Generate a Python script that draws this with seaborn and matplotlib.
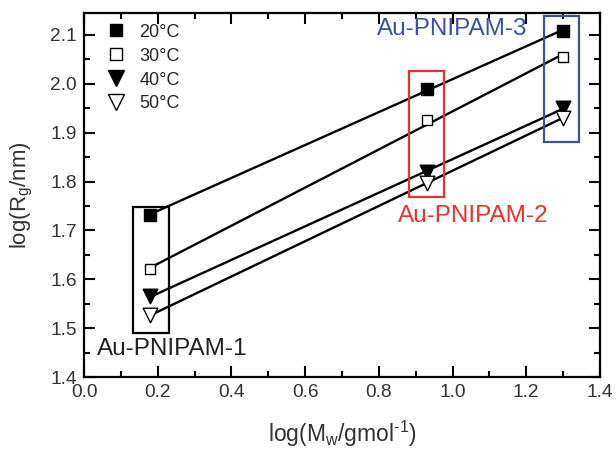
import numpy as np
import pandas as pd
import matplotlib
matplotlib.use("Agg")
import matplotlib.pyplot as plt
import seaborn as sns
from matplotlib.patches import Rectangle
from matplotlib.ticker import MultipleLocator
from matplotlib.lines import Line2D

# ---- data ----
log_mw = [0.18, 0.93, 1.30]
temperatures = ["20°C", "30°C", "40°C", "50°C"]
rg_20 = [1.732, 1.990, 2.108]
rg_30 = [1.621, 1.925, 2.055]
rg_40 = [1.565, 1.819, 1.951]
rg_50 = [1.526, 1.798, 1.930]
sample_labels = ["Au-PNIPAM-1", "Au-PNIPAM-2", "Au-PNIPAM-3"]

series = {"20°C": rg_20, "30°C": rg_30, "40°C": rg_40, "50°C": rg_50}
df = pd.DataFrame([
    {"x": x, "y": y, "T": t}
    for t, vals in series.items() for x, y in zip(log_mw, vals)
])

sns.set_style("ticks")
plt.rcParams["font.family"] = ["Liberation Sans", "DejaVu Sans"]
plt.rcParams["mathtext.fontset"] = "custom"
plt.rcParams["mathtext.rm"] = "Liberation Sans"
plt.rcParams["mathtext.it"] = "Liberation Sans"

fig = plt.figure(figsize=(6.16, 4.53), dpi=100)
ax = fig.add_axes([84/616, 1-377/453, (600-84)/616, (377-13)/453])

styles = {
    "20°C": dict(marker="s", fc="black", s=70),
    "30°C": dict(marker="s", fc="white", s=60),
    "40°C": dict(marker="v", fc="black", s=110),
    "50°C": dict(marker="v", fc="white", s=110),
}

handles = []
for t in temperatures:
    sub = df[df["T"] == t]
    sns.regplot(data=sub, x="x", y="y", ax=ax, scatter=False, ci=None,
                truncate=True, color="black", line_kws=dict(lw=1.7, zorder=2))
    st = styles[t]
    sns.scatterplot(data=sub, x="x", y="y", ax=ax, marker=st["marker"],
                    s=st["s"], facecolor=st["fc"], edgecolor="black",
                    linewidth=1.0, zorder=3, legend=False)
    handles.append(Line2D([], [], ls="none", marker=st["marker"],
                          markersize=np.sqrt(st["s"]) * 1.05, markerfacecolor=st["fc"],
                          markeredgecolor="black", markeredgewidth=1.0, label=t))

# boxes around samples
boxes = [
    ((0.134, 1.490), 0.097, 0.258, "black"),
    ((0.883, 1.769), 0.094, 0.257, "#e8302c"),
    ((1.249, 1.880), 0.094, 0.259, "#3a50a4"),
]
for (xy, w, h, c) in boxes:
    ax.add_patch(Rectangle(xy, w, h, fill=False, edgecolor=c, lw=1.6, zorder=4))

ax.text(0.035, 1.458, sample_labels[0], color="#222222", fontsize=17.5,
        ha="left", va="center")
ax.text(1.056, 1.729, sample_labels[1], color="#e8302c", fontsize=17.5,
        ha="center", va="center")
ax.text(0.998, 2.112, sample_labels[2], color="#3a50a4", fontsize=17.5,
        ha="center", va="center")

ax.set_xlim(0.0, 1.4)
ax.set_ylim(1.4, 2.145)
ax.xaxis.set_major_locator(MultipleLocator(0.2))
ax.xaxis.set_minor_locator(MultipleLocator(0.1))
ax.yaxis.set_major_locator(MultipleLocator(0.1))
ax.yaxis.set_minor_locator(MultipleLocator(0.05))
ax.xaxis.set_major_formatter(matplotlib.ticker.FormatStrFormatter("%.1f"))
ax.yaxis.set_major_formatter(matplotlib.ticker.FormatStrFormatter("%.1f"))
ax.tick_params(which="both", direction="in", top=True, right=True,
               width=1.5, colors="black", labelcolor="#333333", labelsize=13.8)
ax.tick_params(which="major", length=8, pad=5)
ax.tick_params(which="minor", length=4)
ax.tick_params(axis="x", labeltop=False)
ax.tick_params(axis="y", labelright=False)
for sp in ax.spines.values():
    sp.set_linewidth(1.6)
    sp.set_visible(True)
    sp.set_color("black")

ax.set_xlabel(r"log(M$_\mathrm{w}$/gmol$^{\text{-}1}$)", fontsize=16.5, color="#333333", labelpad=13)
ax.set_ylabel(r"log(R$_\mathrm{g}$/nm)", fontsize=16, color="#333333", labelpad=11)

ax.legend(handles=handles, loc="upper left", frameon=False, fontsize=13,
          handlelength=1.0, handletextpad=0.8, labelspacing=0.38,
          borderaxespad=0.3, bbox_to_anchor=(0.02, 1.005))

fig.savefig("out.png", dpi=100)
